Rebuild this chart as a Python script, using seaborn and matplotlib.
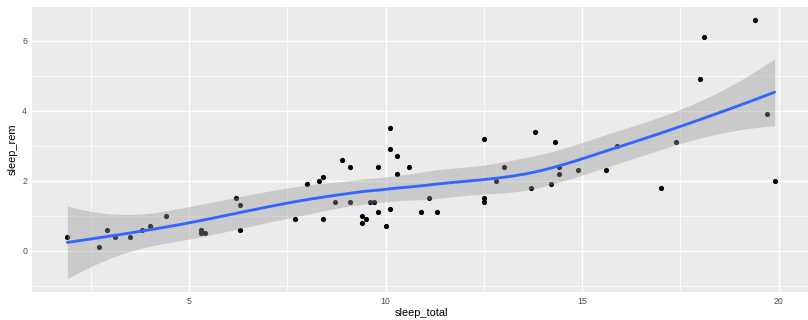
import numpy as np
import pandas as pd
import matplotlib
matplotlib.use("Agg")
import matplotlib.pyplot as plt
import seaborn as sns

# msleep: sleep_total vs sleep_rem (rows with sleep_rem present)
sleep_total = [17.0, 14.4, 14.9, 4.0, 14.4, 8.7, 10.1, 5.3, 9.4, 10.0,
               12.5, 10.3, 8.3, 9.1, 17.4, 5.3, 18.0, 19.7, 2.9, 3.1,
               10.1, 10.9, 12.5, 9.8, 1.9, 2.7, 6.2, 6.3, 8.0, 9.5,
               19.4, 10.1, 14.2, 14.3, 12.5, 19.9, 7.7, 8.4, 3.8, 9.7,
               9.4, 10.3, 13.7, 3.5, 11.1, 18.1, 5.4, 13.0, 9.6, 8.4,
               11.3, 10.6, 13.8, 15.9, 12.8, 9.1, 4.4, 15.6, 8.9, 6.3,
               9.8]
sleep_rem = [1.8, 2.4, 2.3, 0.7, 2.2, 1.4, 2.9, 0.6, 0.8, 0.7,
             1.5, 2.2, 2.0, 1.4, 3.1, 0.5, 4.9, 3.9, 0.6, 0.4,
             3.5, 1.1, 3.2, 1.1, 0.4, 0.1, 1.5, 0.6, 1.9, 0.9,
             6.6, 1.2, 1.9, 3.1, 1.4, 2.0, 0.9, 0.9, 0.6, 1.4,
             1.0, 2.7, 1.8, 0.4, 1.5, 6.1, 0.5, 2.4, 1.4, 2.1,
             1.1, 2.4, 3.4, 3.0, 2.0, 2.4, 1.0, 2.3, 2.6, 1.3,
             2.4]

x_ticks = [5, 10, 15, 20]
y_ticks = [0, 2, 4, 6]

df = pd.DataFrame({"sleep_total": sleep_total, "sleep_rem": sleep_rem})
x = df["sleep_total"].to_numpy(float)
y = df["sleep_rem"].to_numpy(float)
n = len(x)
span = 0.75


def local_rows(x0):
    """Operator rows (value, slope) of a local quadratic tricube fit at x0."""
    q = int(np.floor(n * span))
    d = np.abs(x - x0)
    h = np.sort(d)[q - 1]
    w = np.clip(1 - (d / h) ** 3, 0, None) ** 3
    X = np.vstack([np.ones(n), x - x0, (x - x0) ** 2]).T
    XtW = X.T * w
    B = np.linalg.solve(XtW @ X, XtW)
    return B[0], B[1]


# kd-tree vertices as in R's loess (surface = "interpolate")
xs = np.sort(x)
fc = int(np.floor(n * span * 0.2))
mu = 0.005 * (xs[-1] - xs[0])
verts = {xs[0] - mu, xs[-1] + mu}


def split(l, u):
    if u - l + 1 <= fc:
        return
    m = (l + u) // 2
    off = 0
    while l <= m + off < u:
        if xs[m + off] == xs[m + off + 1]:
            off = -off
            if off >= 0:
                off += 1
        else:
            m = m + off
            break
    v = xs[m]
    if v in verts:
        return
    verts.add(v)
    split(l, m)
    split(m + 1, u)


split(0, n - 1)
vx = np.array(sorted(verts))
vrows = [local_rows(v) for v in vx]


def interp_row(x0):
    i = np.searchsorted(vx, x0, side="right") - 1
    i = min(max(i, 0), len(vx) - 2)
    a, b = vx[i], vx[i + 1]
    hh = b - a
    t = (x0 - a) / hh
    h00 = 2 * t ** 3 - 3 * t ** 2 + 1
    h10 = t ** 3 - 2 * t ** 2 + t
    h01 = -2 * t ** 3 + 3 * t ** 2
    h11 = t ** 3 - t ** 2
    fa, sa = vrows[i]
    fb, sb = vrows[i + 1]
    return h00 * fa + h10 * hh * sa + h01 * fb + h11 * hh * sb


L = np.array([interp_row(xi) for xi in x])
res = y - L @ y
IL = np.eye(n) - L
M = IL.T @ IL
one_delta = np.trace(M)
two_delta = np.trace(M @ M)
sigma = np.sqrt(np.sum(res ** 2) / one_delta)
dfree = one_delta ** 2 / two_delta
z = 1.959963984540054
tq = z + (z ** 3 + z) / (4 * dfree) + (5 * z ** 5 + 16 * z ** 3 + 3 * z) / (96 * dfree ** 2)

xseq = np.linspace(x.min(), x.max(), 80)
lv = np.array([interp_row(x0) for x0 in xseq])
fit = lv @ y
se = sigma * np.sqrt(np.sum(lv ** 2, axis=1))
ymin = fit - tq * se
ymax = fit + tq * se
smooth = pd.DataFrame({"x": xseq, "fit": fit})

sns.set_style("darkgrid", {"axes.facecolor": "#EBEBEB", "grid.color": "white"})
plt.rcParams["font.family"] = ["Liberation Sans", "DejaVu Sans"]

W, H = 808, 320
fig = plt.figure(figsize=(W / 100, H / 100), dpi=100)
left, right, top, bottom = 32, 810, 6.7, 291.7
ax = fig.add_axes([left / W, 1 - bottom / H, (right - left) / W, (bottom - top) / H])

sns.scatterplot(data=df, x="sleep_total", y="sleep_rem", ax=ax, color="black",
                s=14, linewidth=0, zorder=3)
ax.fill_between(xseq, ymin, ymax, color="#999999", alpha=0.4, linewidth=0, zorder=4)
sns.lineplot(data=smooth, x="x", y="fit", ax=ax, color="#3366FF", linewidth=2.05,
             errorbar=None, zorder=5)

xr = (x.min(), x.max())
ax.set_xlim(xr[0] - 0.05 * (xr[1] - xr[0]), xr[1] + 0.05 * (xr[1] - xr[0]))
ylo = min(y.min(), ymin.min())
yhi = max(y.max(), ymax.max())
ax.set_ylim(ylo - 0.05 * (yhi - ylo), yhi + 0.05 * (yhi - ylo))

ax.set_xticks(x_ticks)
ax.set_yticks(y_ticks)
ax.set_xticks([2.5, 7.5, 12.5, 17.5], minor=True)
ax.set_yticks([-1, 1, 3, 5], minor=True)
ax.grid(True, which="major", color="white", linewidth=1.02)
ax.grid(True, which="minor", color="white", linewidth=0.51)
ax.set_axisbelow(True)
for s in ax.spines.values():
    s.set_visible(False)
ax.tick_params(which="major", length=1.98, width=0.77, color="#333333",
               labelsize=6.34, labelcolor="#4D4D4D", pad=1.6)
ax.tick_params(which="minor", length=0)
ax.set_xlabel("sleep_total", fontsize=7.92, color="black", labelpad=2.0)
ax.set_ylabel("sleep_rem", fontsize=7.92, color="black", labelpad=3.0)

fig.savefig("out.png", dpi=100)
